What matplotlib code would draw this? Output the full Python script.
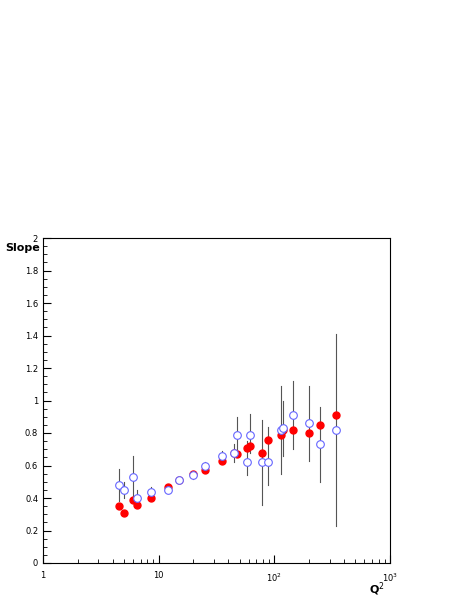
import matplotlib
matplotlib.use("Agg")
import matplotlib.pyplot as plt
from matplotlib.ticker import FixedLocator
import numpy as np

q2 = [4.5, 5.0, 6.0, 6.5, 8.5, 12, 15, 20, 25, 35, 45, 48, 58, 62, 78, 88, 115, 120, 145, 200, 250, 340]
blue = [0.48, 0.45, 0.53, 0.40, 0.44, 0.45, 0.51, 0.54, 0.60, 0.66, 0.68, 0.79, 0.62, 0.79, 0.62, 0.62, 0.82, 0.83, 0.91, 0.86, 0.73, 0.82]
red = [0.35, 0.31, 0.39, 0.36, 0.40, 0.47, 0.51, 0.55, 0.57, 0.63, 0.68, 0.67, 0.71, 0.72, 0.68, 0.76, 0.79, 0.82, 0.82, 0.80, 0.85, 0.91]
err_lo = [0.38, 0.40, 0.40, 0.36, 0.41, 0.43, 0.49, 0.52, 0.58, 0.63, 0.62, 0.67, 0.54, 0.68, 0.36, 0.48, 0.55, 0.66, 0.70, 0.63, 0.50, 0.23]
err_hi = [0.58, 0.50, 0.66, 0.45, 0.47, 0.48, 0.53, 0.56, 0.62, 0.69, 0.73, 0.90, 0.75, 0.92, 0.88, 0.84, 1.09, 1.00, 1.12, 1.09, 0.96, 1.41]

fig = plt.figure(figsize=(4.69, 6.07), dpi=100)
ax = fig.add_axes([43/469, 44/607, 347/469, 325/607])

for x, lo, hi in zip(q2, err_lo, err_hi):
    ax.plot([x, x], [lo, hi], color='#555555', lw=0.8, zorder=1)
ax.plot(q2, red, 'o', color='red', ms=5, zorder=2)
ax.plot(q2, blue, 'o', mfc='white', mec='#6666ff', mew=0.8, ms=5.5, zorder=3)

ax.set_xscale('log')
ax.set_xlim(1, 1000)
ax.set_ylim(0, 2)
ax.set_yticks(np.arange(0, 2.01, 0.2))
ax.set_yticklabels(['0', '0.2', '0.4', '0.6', '0.8', '1', '1.2', '1.4', '1.6', '1.8', '2'])
ax.yaxis.set_minor_locator(FixedLocator(np.arange(0, 2.0, 0.05)))
ax.set_xticks([1, 10, 100, 1000])
ax.set_xticklabels(['1', '10', r'$10^2$', r'$10^3$'])
ax.tick_params(which='both', direction='in', top=False, right=False, labelsize=6)
ax.tick_params(which='major', length=6)
ax.tick_params(which='minor', length=3)
ax.tick_params(axis='x', pad=6)
for s in ax.spines.values():
    s.set_linewidth(0.8)

ax.text(-0.008, 0.985, 'Slope', transform=ax.transAxes, ha='right', va='top', fontsize=8, fontweight='bold')
ax.text(0.985, -0.055, r'Q$^2$', transform=ax.transAxes, ha='right', va='top', fontsize=8, fontweight='bold')

fig.savefig('out.png', dpi=100)
